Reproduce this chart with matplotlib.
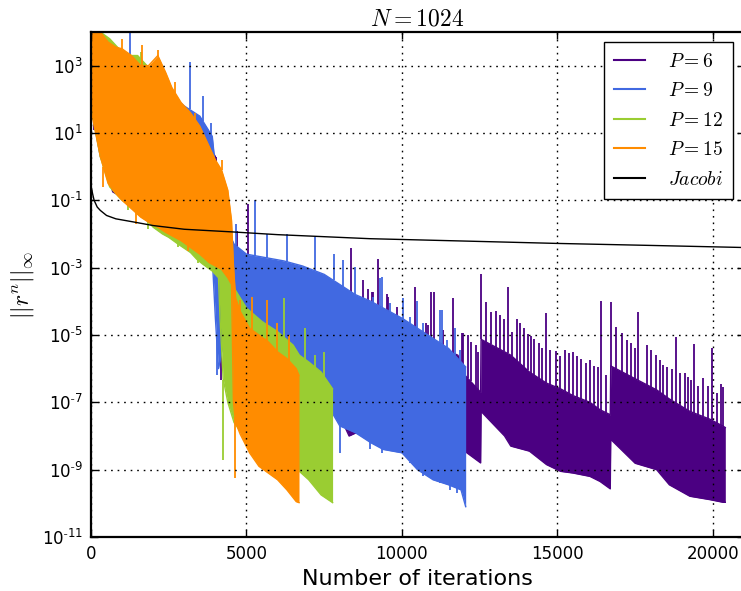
import numpy as np
import matplotlib
matplotlib.use("Agg")
import matplotlib.pyplot as plt

# exponents (log10); x = iteration number

# P=6
p6_x = [0, 300, 700, 1000, 1500, 2000, 2300, 2700, 3000, 3500, 3800, 4000, 4100, 4200, 4300,
        4600, 5000, 5500, 6000, 6500, 7000, 7500, 8000, 8300, 9000, 10000, 11000, 11800, 12030,
        12530, 12545, 13300, 13500, 14100, 14650, 15100, 15500, 16045, 16370, 16700, 16715,
        17500, 18190, 18600, 19260, 19900, 20330, 20400]
p6_hi = [4.2, 4.0, 3.6, 3.3, 2.9, 2.6, 2.4, 2.1, 1.7, 1.1, 0.6, 0.3, -0.3, -0.7, -1.0,
         -2.5, -2.8, -2.9, -3.0, -3.1, -3.2, -3.4, -3.7, -3.9, -4.2, -4.7, -5.3, -5.6, -6.2,
         -6.7, -5.13, -5.5, -5.6, -6.1, -6.43, -6.6, -6.8, -7.0, -7.22, -7.37, -5.92,
         -6.3, -6.63, -6.9, -7.27, -7.5, -7.71, -7.75]
p6_lo = [1.8, 0.5, -0.75, -0.9, -1.1, -1.5, -1.9, -1.85, -2.0, -2.4, -2.6, -2.8, -3.0, -5.0, -5.3,
         -5.6, -5.8, -6.0, -6.2, -6.4, -6.7, -7.0, -7.4, -8.0, -7.7, -8.1, -8.3, -8.4, -8.46,
         -8.8, -7.27, -8.0, -8.3, -8.45, -8.85, -9.05, -9.1, -9.2, -9.35, -9.57, -8.1,
         -8.81, -9.0, -9.45, -9.79, -9.89, -9.97, -9.97]
p6_spike_x = [4030, 4700, 5060, 7900, 8350, 8760, 8920, 9025, 9060, 9220, 9510, 9560, 9830,
              10420, 10790, 10850, 10950, 11030, 11330, 11630, 11920, 11970,
              12110, 12210, 12380, 12455,
              12550, 12700, 12850, 13010, 13150, 13270, 13400, 13540, 13700, 13800, 13920, 14040,
              14150, 14260, 14400, 14510, 14620, 14770, 14940, 15090, 15230, 15370, 15490, 15620,
              15770, 15910, 16050, 16170, 16290, 16410, 16560,
              16720, 16880, 17070, 17250, 17380, 17490, 17600, 17870, 18010, 18170, 18300, 18400,
              18530, 18670, 18800, 18940, 19090, 19210, 19290, 19380, 19530, 19670, 19850, 19980,
              20120, 20250, 20340]
p6_spike_top = [0.3, -1.9, -1.1, -3.47, -2.43, -3.37, -3.62, -3.72, -3.72, -2.73, -3.77, -3.86, -4.16,
                -3.57, -4.65, -4.7, -3.72, -3.72, -4.85, -3.91, -4.95, -4.95,
                -5.0, -5.2, -5.3, -5.5,
                -3.2, -4.01, -4.31, -4.28, -4.41, -4.54, -3.57, -4.9, -4.54, -4.65, -4.8, -4.97,
                -5.03, -5.13, -5.25, -5.4, -4.34, -5.46, -5.49, -5.62, -5.46, -5.54, -5.52, -5.62,
                -5.72, -5.82, -5.74, -5.92, -5.94, -3.98, -6.18,
                -4.01, -4.75, -4.95, -5.15, -5.25, -5.4, -4.31, -5.3, -5.44, -5.59, -5.74, -5.89,
                -5.96, -6.02, -5.07, -6.14, -6.14, -6.25, -6.33, -5.27, -6.53, -6.28, -6.51, -5.4,
                -6.73, -6.45, -6.56]
p6_dip_x = [100, 600, 700, 2370, 2640, 4170]
p6_dip_bot = [1.1, -0.25, -0.3, -1.65, -1.95, -6.33]

# P=9
p9_x = [0, 300, 700, 1000, 1500, 2000, 2500, 3000, 3500, 3900, 4000, 4100, 4300, 4600, 5000,
        5600, 6200, 6800, 7500, 8000, 8500, 9000, 9400, 10000, 10500, 11000, 11500, 11900, 12050]
p9_hi = [4.2, 4.0, 3.6, 3.4, 3.0, 2.7, 2.2, 1.8, 1.5, 0.9, 0.0, -0.6, -1.7, -2.3, -2.6,
         -2.7, -2.8, -2.95, -3.2, -3.5, -3.8, -4.0, -4.2, -4.5, -4.8, -5.1, -5.4, -5.8, -5.95]
p9_lo = [1.8, 0.3, -0.6, -0.9, -1.2, -1.4, -1.65, -2.0, -2.4, -2.7, -4.5, -6.0, -5.0, -5.2, -5.5,
         -5.7, -5.9, -6.3, -6.9, -7.7, -7.9, -8.2, -8.4, -8.5, -9.0, -9.3, -9.45, -9.6, -10.1]
p9_spike_x = [1240, 3170, 3600, 3870, 4650, 5270, 5650, 6290, 7200, 7790, 7800, 8110, 8330,
              8490, 8760, 9080, 9290, 9350, 9610, 10040, 10260, 10500, 10690, 11220, 11275,
              11440, 11700, 11870]
p9_spike_top = [4.3, 3.1, 2.1, 1.3, -1.7, -1.0, -2.0, -2.0, -2.1, -3.37, -2.6, -2.78, -3.86,
                -2.98, -3.96, -3.86, -3.3, -3.27, -4.06, -3.9, -4.46, -4.0, -4.65, -4.26, -4.26,
                -5.15, -4.8, -5.45]
p9_dip_x = [975, 2100, 4040, 8006, 8970, 9350, 10260, 10686, 11220, 11550, 11760]
p9_dip_bot = [-0.85, -1.6, -6.2, -8.5, -8.4, -8.5, -8.8, -9.2, -9.4, -9.6, -9.7]

# P=12
p12_x = [0, 300, 600, 1000, 1300, 1500, 1800, 2000, 2300, 2500, 2800, 3200, 3400, 3600, 3900,
         4100, 4150, 4250, 4400, 4600, 5000, 5500, 6000, 6500, 6700, 7000, 7400, 7770]
p12_hi = [4.2, 4.0, 3.8, 3.4, 3.3, 3.3, 3.0, 2.7, 2.4, 2.3, 1.9, 1.3, 1.0, 0.5, -0.2,
          -1.4, -2.0, -2.8, -3.2, -3.6, -4.2, -4.6, -4.9, -5.3, -5.6, -5.8, -6.1, -6.6]
p12_lo = [1.8, 0.3, -0.6, -1.0, -1.2, -1.4, -1.6, -1.8, -2.0, -2.1, -2.3, -2.55, -2.75, -2.9, -3.1,
          -3.3, -4.5, -6.3, -7.0, -7.6, -8.1, -8.5, -8.7, -8.9, -9.05, -9.3, -9.75, -9.98]
p12_spike_x = [1600, 2750, 4255, 5060, 6200, 6880, 7200, 7505]
p12_spike_top = [3.4, 1.4, -3.1, -4.3, -3.9, -4.8, -5.6, -5.5]
p12_dip_x = [1190, 1830, 2800, 3440, 4255]
p12_dip_bot = [-1.3, -1.85, -2.4, -2.85, -8.7]

# P=15
p15_x = [0, 60, 300, 550, 800, 1000, 1300, 1600, 1850, 2150, 2400, 2600, 2900, 3200, 3500,
         3800, 4000, 4200, 4400, 4520, 4580, 4650, 4800, 5100, 5400, 5700, 6000, 6300, 6600, 6690]
p15_hi = [4.2, 4.2, 4.0, 3.7, 3.55, 3.5, 3.3, 3.0, 3.0, 3.3, 2.8, 2.35, 1.9, 1.6, 1.2,
          0.6, 0.2, -0.1, -0.7, -1.6, -2.9, -3.9, -4.3, -4.8, -5.0, -5.2, -5.5, -5.7, -6.0, -6.2]
p15_lo = [1.8, 1.4, 0.3, -0.5, -0.8, -1.0, -1.25, -1.5, -1.65, -1.8, -1.95, -2.05, -2.2, -2.4, -2.6,
          -2.85, -2.95, -3.05, -3.3, -3.5, -7.0, -7.6, -7.95, -8.5, -8.9, -9.1, -9.3, -9.6, -9.95, -9.98]
p15_spike_x = [1000, 1650, 2150, 2700, 3350, 4200, 4790, 5165, 5650, 5970, 6380]
p15_spike_top = [3.8, 3.6, 3.45, 2.5, 1.6, 0.2, -3.96, -3.86, -3.96, -4.65, -5.0]
p15_dip_x = [400, 1450, 3120, 4630]
p15_dip_bot = [-0.6, -1.7, -2.5, -9.25]

# Jacobi
jac_x = [20, 50, 100, 200, 300, 500, 800, 1350, 2000, 3000, 4570, 6000, 8970, 12000, 14970,
         18000, 20900]
jac_log = [-0.65, -0.8, -1.0, -1.2, -1.3, -1.45, -1.55, -1.64, -1.75, -1.86, -1.94, -2.02, -2.14,
           -2.21, -2.28, -2.34, -2.40]

series = [
    ("$P=6$", "#4B0082", p6_x, p6_hi, p6_lo, p6_spike_x, p6_spike_top, p6_dip_x, p6_dip_bot),
    ("$P=9$", "#4169E1", p9_x, p9_hi, p9_lo, p9_spike_x, p9_spike_top, p9_dip_x, p9_dip_bot),
    ("$P=12$", "#9ACD32", p12_x, p12_hi, p12_lo, p12_spike_x, p12_spike_top, p12_dip_x, p12_dip_bot),
    ("$P=15$", "#FF8C00", p15_x, p15_hi, p15_lo, p15_spike_x, p15_spike_top, p15_dip_x, p15_dip_bot),
]

plt.rcParams["font.family"] = "DejaVu Sans"
plt.rcParams["mathtext.fontset"] = "cm"
plt.rcParams["xtick.direction"] = "in"
plt.rcParams["ytick.direction"] = "in"

fig = plt.figure(figsize=(7.41, 5.91), dpi=100)
ax = fig.add_axes([0.1228, 0.0914, 0.8812, 0.8545])
ax.set_yscale("log")

for i, (label, color, x, hi, lo, sx, stop, dx, dbot) in enumerate(series):
    z = 1.0 + 0.2 * i
    x = np.array(x, dtype=float)
    hi = np.array(hi)
    lo = np.array(lo)
    ax.fill_between(x, 10.0 ** lo, 10.0 ** hi, color=color, lw=0, zorder=z)
    ax.plot(x, 10.0 ** hi, color=color, lw=1.0, label=label, zorder=z)
    ax.plot(x, 10.0 ** lo, color=color, lw=1.0, zorder=z)
    base = np.interp(sx, x, hi)
    ax.vlines(sx, 10.0 ** base, 10.0 ** np.array(stop), color=color, lw=1.3, zorder=z)
    base = np.interp(dx, x, lo)
    ax.vlines(dx, 10.0 ** np.array(dbot), 10.0 ** base, color=color, lw=1.3, zorder=z)

ax.plot(jac_x, 10.0 ** np.array(jac_log), color="black", lw=1.0, label="$Jacobi$", zorder=2.2)

ax.set_xlim(0, 21000)
ax.set_ylim(1e-11, 1e4)
ax.set_xticks([0, 5000, 10000, 15000, 20000])
yexp = [3, 1, -1, -3, -5, -7, -9, -11]
ax.set_yticks([10.0 ** e for e in yexp])
ax.set_yticklabels([r"$\mathdefault{10^{%s}}$" % (str(e) if e >= 0 else r"\text{-}%d" % -e)
                    for e in yexp])
ax.yaxis.set_minor_locator(matplotlib.ticker.NullLocator())
ax.tick_params(labelsize=12, top=True, right=True, length=5, width=1, pad=6)
ax.grid(True, color="black", linestyle=(0, (1.2, 3.5)), lw=1.0)
ax.xaxis.set_zorder(3)
ax.yaxis.set_zorder(3)
for s in ax.spines.values():
    s.set_linewidth(1.6)
    s.set_zorder(3.5)

ax.set_title("$N=1024$", fontsize=17, pad=5)
ax.set_xlabel("Number of iterations", fontsize=16)
ax.set_ylabel(r"$||r^n||_\infty$", fontsize=17)

leg = ax.legend(loc="upper right", bbox_to_anchor=(0.983, 0.98), borderaxespad=0,
                fontsize=14, fancybox=False, framealpha=1, edgecolor="black",
                handlelength=1.6, labelspacing=0.54, borderpad=0.5, handletextpad=1.2)
leg.get_frame().set_linewidth(1.0)
leg.set_zorder(5)
for h in leg.legend_handles:
    h.set_linewidth(1.5)

fig.savefig("out.png", dpi=100)
